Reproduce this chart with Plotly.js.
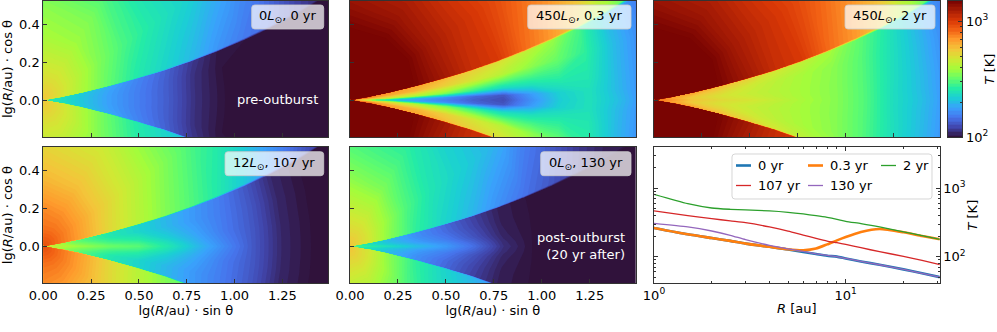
<!DOCTYPE html>
<html>
<head>
<meta charset="utf-8">
<script src="https://cdn.plot.ly/plotly-3.0.1.min.js"></script>
<style>html,body{margin:0;padding:0;background:#fff}</style>
</head>
<body>
<div id="plot" style="width:997px;height:332px"></div>
<script>
// radial nodes lg(R/au), and the disk surface angle above the midplane at each node
const lgRNodes = [0.005, 0.1, 0.2, 0.35, 0.5, 0.65, 0.8, 0.95, 1.1, 1.25, 1.4, 1.7];
const surfaceDeg = [9.5, 10.2, 11, 12.2, 13.2, 14, 15, 16, 17, 18, 19, 21];
// angle columns: first six are fractions of the surface angle, last three are degrees
const surfaceFractions = [0, 0.12, 0.3, 0.65, 0.985, 1.015];
const openDeg = [35, 60, 90];

// temperature in K, one row per radial node, one column per angle
const tempPre = [
    [263,263,263,263,270,540,550,560,560],
    [235,235,236,238,245,480,490,495,500],
    [208,208,208,210,215,400,425,445,450],
    [175,175,175,178,185,315,345,375,385],
    [152,152,152,154,158,257,295,340,355],
    [133,133,133,134,137,225,260,290,310],
    [111,111,111,112,116,197,235,250,270],
    [100,100,100,100,102,168,215,230,240],
    [100,100,100,100,100,150,190,200,210],
    [100,100,100,100,100,138,165,178,185],
    [100,100,100,100,100,120,145,160,170],
    [100,100,100,100,100,100,115,130,135],
];
const tempBurstEarly = [
    [263,400,600,800,900,1500,1500,1500,1500],
    [235,330,540,720,800,1500,1500,1500,1500],
    [208,280,480,640,700,1500,1500,1500,1500],
    [175,190,400,600,650,1450,1500,1500,1500],
    [152,165,340,530,600,1250,1240,1280,1320],
    [133,140,270,470,530,1080,1100,1150,1200],
    [124,130,230,420,490,1000,1000,1020,1050],
    [165,175,240,360,430,800,890,930,950],
    [215,220,255,320,370,680,780,850,880],
    [240,240,250,270,290,550,700,770,800],
    [200,195,195,200,200,390,600,700,730],
    [130,130,130,130,130,225,450,550,600],
];
const tempBurstLate = [
    [817,817,800,800,850,1500,1500,1500,1500],
    [690,680,650,650,700,1500,1500,1500,1500],
    [560,550,540,590,680,1500,1500,1500,1500],
    [505,490,480,520,600,1450,1500,1500,1500],
    [475,455,440,460,530,1250,1240,1280,1320],
    [430,415,410,420,470,1080,1100,1150,1200],
    [385,380,380,385,430,1000,1000,1020,1050],
    [350,350,350,355,385,800,890,930,950],
    [300,300,300,305,320,680,780,850,880],
    [235,235,238,245,260,550,700,770,800],
    [200,198,198,200,205,390,600,700,730],
    [130,130,130,130,130,225,450,550,600],
];
const tempFading = [
    [466,466,466,470,490,900,900,900,900],
    [410,405,395,380,370,770,780,780,780],
    [370,360,340,310,300,660,680,700,720],
    [325,310,285,255,250,510,550,580,600],
    [307,290,260,225,225,420,460,500,530],
    [253,240,215,195,195,350,390,440,470],
    [199,190,180,170,172,300,335,375,410],
    [160,155,150,150,152,255,290,330,360],
    [130,130,130,130,130,210,260,295,320],
    [108,108,108,108,108,165,225,270,300],
    [100,100,100,100,100,135,190,240,270],
    [100,100,100,100,100,100,140,190,220],
];
const tempPost = [
    [307,307,300,290,285,540,550,560,560],
    [272,262,250,240,235,470,480,490,495],
    [240,228,212,200,198,360,390,425,435],
    [200,190,175,165,163,270,300,340,360],
    [172,165,152,142,140,225,250,290,310],
    [142,137,128,122,120,195,225,255,275],
    [112,110,107,105,105,165,205,225,245],
    [100,100,100,100,100,145,185,205,215],
    [100,100,100,100,100,130,155,172,185],
    [100,100,100,100,100,115,135,150,160],
    [100,100,100,100,100,105,120,135,145],
    [100,100,100,100,100,100,105,118,125],
];

// midplane profiles
const radiusAu = [1, 1.5, 2, 2.5, 3, 4, 5, 6, 7, 8, 9, 10, 12, 15, 20, 25, 31];
const midplane0yr = [263,212,187,170,155,139,127,117,109,103,100,94,85,76,65,57,50];
const midplane03yr = [263,212,187,170,155,139,128,124,131,151,173,194,230,254,227,200,179];
const midplane2yr = [817,596,515,493,482,466,445,421,398,376,352,329,304,272,230,203,179];
const midplane107yr = [466,398,360,333,314,272,237,207,185,169,160,151,135,118,101,88,76];
const midplane130yr = [307,272,237,205,177,146,130,119,110,104,100,94,85,76,65,57,50];

const seriesNames = ['0 yr', '0.3 yr', '2 yr', '107 yr', '130 yr'];
const seriesColours = ['#1f77b4', '#ff7f0e', '#2ca02c', '#d62728', '#9467bd'];
const seriesWidths = [2.6, 2.6, 1.3, 1.3, 1.3];

const colourBarLevels = [100,107,115,123,132,141,151,162,174,186,200,214,229,245,263,282,302,324,347,372,398,427,457,490,525,562,603,646,692,741,794,851,912,977,1047,1122,1202,1288,1380,1479,1500];
const turboColours = ['#30123b','#4145ab','#4675ed','#39a2fc','#1bcfd4','#24eca6','#61fc6c','#a4fc3b','#d1e834','#f3c63a','#fe9b2d','#f36315','#d93806','#a91d05','#7a0402'];
const turbo = turboColours.map((c, i) => [i / (turboColours.length - 1), c]);
const zMin = 2;
const zMax = Math.log10(1500);

const W = 997;
const H = 332;
const FONT = '"DejaVu Sans", sans-serif';
const FRAME = '#333';
const px = (x) => x / W;
const py = (y) => 1 - y / H;

const panels = [
    {temp: tempPre, box: [43.3, 328.3, 1, 137], label: '0<i>L</i><sub>⊙</sub>, 0 yr', tag: [251.7, 323.7, 5, 29]},
    {temp: tempBurstEarly, box: [350, 635.7, 1, 137], label: '450<i>L</i><sub>⊙</sub>, 0.3 yr', tag: [527.7, 631, 5, 29]},
    {temp: tempBurstLate, box: [654, 939.7, 1, 137], label: '450<i>L</i><sub>⊙</sub>, 2 yr', tag: [845, 935, 5, 29]},
    {temp: tempFading, box: [43.3, 328.3, 147, 283.3], label: '12<i>L</i><sub>⊙</sub>, 107 yr', tag: [225, 323.7, 151.7, 175.7]},
    {temp: tempPost, box: [350, 635.7, 147, 283.3], label: '0<i>L</i><sub>⊙</sub>, 130 yr', tag: [540.7, 631, 151.7, 175.7]},
];

function nodeAngle(col, i) {
    if (col < surfaceFractions.length) return surfaceFractions[col] * surfaceDeg[i];
    return openDeg[col - surfaceFractions.length];
}

// polar nodes, north and south, mirrored about the midplane
const nCols = surfaceFractions.length + openDeg.length;
const bIndex = [];
for (let j = -(nCols - 1); j < nCols; j++) bIndex.push(j);

const gridX = bIndex.map((j) => lgRNodes.map((r, i) => r * Math.cos(nodeAngle(Math.abs(j), i) * Math.PI / 180)));
const gridY = bIndex.map((j) => lgRNodes.map((r, i) => Math.sign(j) * r * Math.sin(nodeAngle(Math.abs(j), i) * Math.PI / 180)));

function roundedBox(x0, x1, y0, y1, r) {
    const X = (v) => px(v).toFixed(5);
    const Y = (v) => py(v).toFixed(5);
    return 'M' + X(x0 + r) + ',' + Y(y0) + ' L' + X(x1 - r) + ',' + Y(y0)
        + ' Q' + X(x1) + ',' + Y(y0) + ' ' + X(x1) + ',' + Y(y0 + r)
        + ' L' + X(x1) + ',' + Y(y1 - r)
        + ' Q' + X(x1) + ',' + Y(y1) + ' ' + X(x1 - r) + ',' + Y(y1)
        + ' L' + X(x0 + r) + ',' + Y(y1)
        + ' Q' + X(x0) + ',' + Y(y1) + ' ' + X(x0) + ',' + Y(y1 - r)
        + ' L' + X(x0) + ',' + Y(y0 + r)
        + ' Q' + X(x0) + ',' + Y(y0) + ' ' + X(x0 + r) + ',' + Y(y0) + ' Z';
}

const data = [];
const layout = {
    width: W,
    height: H,
    margin: {l: 0, r: 0, t: 0, b: 0},
    paper_bgcolor: '#fff',
    plot_bgcolor: '#fff',
    font: {family: FONT, size: 13, color: '#000'},
    showlegend: false,
    shapes: [],
    annotations: [],
};

const frameAxis = {
    showgrid: false,
    zeroline: false,
    showline: true,
    linecolor: FRAME,
    linewidth: 1,
    mirror: true,
    ticks: 'inside',
    ticklen: 4,
    tickwidth: 1,
    tickcolor: FRAME,
    tickfont: {size: 13},
};

panels.forEach((p, k) => {
    const n = k + 1;
    const xName = 'x' + n;
    const yName = 'y' + n;
    const bottomRow = k >= 3;
    const leftCol = k === 0 || k === 3;

    data.push({
        type: 'carpet',
        carpet: 'c' + n,
        a: lgRNodes,
        b: bIndex,
        x: gridX,
        y: gridY,
        xaxis: xName,
        yaxis: yName,
        aaxis: {smoothing: 0, showgrid: false, showline: false, startline: false, endline: false, showticklabels: 'none', minorgridcount: 0, tickmode: 'array', tickvals: []},
        baxis: {smoothing: 0, showgrid: false, showline: false, startline: false, endline: false, showticklabels: 'none', minorgridcount: 0, tickmode: 'array', tickvals: []},
        showlegend: false,
    });
    data.push({
        type: 'contourcarpet',
        carpet: 'c' + n,
        a: lgRNodes,
        b: bIndex,
        z: bIndex.map((j) => p.temp.map((row) => Math.log10(row[Math.abs(j)]))),
        xaxis: xName,
        yaxis: yName,
        autocontour: false,
        contours: {coloring: 'fill', showlines: false, start: zMin, end: 3.17, size: 0.012},
        line: {width: 0, smoothing: 0},
        colorscale: turbo,
        zauto: false,
        zmin: zMin,
        zmax: zMax,
        showscale: false,
        showlegend: false,
    });

    layout['xaxis' + n] = Object.assign({}, frameAxis, {
        domain: [px(p.box[0]), px(p.box[1])],
        anchor: yName,
        range: [0, 1.49],
        tick0: 0,
        dtick: 0.25,
        tickformat: '.2f',
        showticklabels: bottomRow,
        title: bottomRow ? {text: 'lg(<i>R</i>/au) · sin θ', standoff: 1, font: {size: 13}} : undefined,
    });
    layout['yaxis' + n] = Object.assign({}, frameAxis, {
        domain: [py(p.box[3]), py(p.box[2])],
        anchor: xName,
        range: [-0.195, 0.522],
        tick0: 0,
        dtick: 0.2,
        tickformat: '.1f',
        showticklabels: leftCol,
        title: leftCol ? {text: 'lg(<i>R</i>/au) · cos θ', standoff: 6, font: {size: 13}} : undefined,
    });

    layout.shapes.push({
        type: 'path',
        xref: 'paper',
        yref: 'paper',
        path: roundedBox(p.tag[0], p.tag[1], p.tag[2], p.tag[3], 3),
        fillcolor: 'rgba(255,255,255,0.72)',
        line: {color: 'rgba(204,204,204,0.8)', width: 1},
        layer: 'above',
    });
    layout.annotations.push({
        xref: 'paper',
        yref: 'paper',
        x: px((p.tag[0] + p.tag[1]) / 2),
        y: py((p.tag[2] + p.tag[3]) / 2),
        xanchor: 'center',
        yanchor: 'middle',
        showarrow: false,
        text: p.label,
        font: {size: 13, color: '#000'},
    });
});

layout.annotations.push({
    xref: 'paper', yref: 'paper', x: px(320), y: py(100), xanchor: 'right', yanchor: 'middle',
    showarrow: false, text: 'pre-outburst', font: {size: 13, color: '#fff'},
});
layout.annotations.push({
    xref: 'paper', yref: 'paper', x: px(626.5), y: py(246), xanchor: 'right', yanchor: 'middle', align: 'right',
    showarrow: false, text: 'post-outburst<br>(20 yr after)', font: {size: 13, color: '#fff'},
});

// midplane temperature panel
[midplane0yr, midplane03yr, midplane2yr, midplane107yr, midplane130yr].forEach((vals, i) => {
    data.push({
        type: 'scatter',
        mode: 'lines',
        name: seriesNames[i],
        x: radiusAu,
        y: vals,
        xaxis: 'x6',
        yaxis: 'y6',
        line: {color: seriesColours[i], width: seriesWidths[i], shape: 'spline', smoothing: 0.6},
    });
});

layout.xaxis6 = Object.assign({}, frameAxis, {
    domain: [px(654), px(939.7)],
    anchor: 'y6',
    type: 'log',
    range: [0, 1.49],
    mirror: 'ticks',
    tickmode: 'array',
    tickvals: [1, 10],
    ticktext: ['10<sup>0</sup>', '10<sup>1</sup>'],
    minor: {ticks: 'inside', ticklen: 2, tickwidth: 1, tickcolor: FRAME, tickmode: 'array', tickvals: [2,3,4,5,6,7,8,9,20,30]},
    title: {text: '<i>R</i> [au]', standoff: 1, font: {size: 13}},
});
layout.yaxis6 = Object.assign({}, frameAxis, {
    domain: [py(283.3), py(147)],
    anchor: 'x6',
    type: 'log',
    side: 'right',
    range: [1.609, 3.605],
    mirror: 'ticks',
    tickmode: 'array',
    tickvals: [100, 1000],
    ticktext: ['10<sup>2</sup>', '10<sup>3</sup>'],
    minor: {ticks: 'inside', ticklen: 2, tickwidth: 1, tickcolor: FRAME, tickmode: 'array', tickvals: [50,60,70,80,90,200,300,400,500,600,700,800,900,2000,3000,4000]},
    title: {text: '<i>T</i> [K]', standoff: 3, font: {size: 13}},
});

// legend box drawn by hand so the two rows sit like the reference
layout.shapes.push({
    type: 'path',
    xref: 'paper',
    yref: 'paper',
    path: roundedBox(732, 932, 154, 199, 3),
    fillcolor: 'rgba(255,255,255,0.8)',
    line: {color: 'rgba(204,204,204,0.8)', width: 1},
    layer: 'above',
});
const legendSlots = [[736, 165.5], [808, 165.5], [881, 165.5], [736, 185.5], [808, 185.5]];
legendSlots.forEach((slot, i) => {
    layout.shapes.push({
        type: 'line',
        xref: 'paper',
        yref: 'paper',
        x0: px(slot[0]),
        x1: px(slot[0] + 15),
        y0: py(slot[1]),
        y1: py(slot[1]),
        line: {color: seriesColours[i], width: seriesWidths[i]},
        layer: 'above',
    });
    layout.annotations.push({
        xref: 'paper',
        yref: 'paper',
        x: px(slot[0] + 19.5),
        y: py(slot[1]),
        xanchor: 'left',
        yanchor: 'middle',
        showarrow: false,
        text: seriesNames[i],
        font: {size: 13, color: '#000'},
    });
});

// colour bar as its own small axes
data.push({
    type: 'heatmap',
    x: [0],
    y: colourBarLevels,
    z: colourBarLevels.map((t) => [Math.log10(t)]),
    xaxis: 'x7',
    yaxis: 'y7',
    colorscale: turbo,
    zmin: zMin,
    zmax: zMax,
    showscale: false,
    showlegend: false,
});
layout.xaxis7 = {
    domain: [px(947.7), px(962.3)],
    anchor: 'y7',
    range: [-0.5, 0.5],
    showticklabels: false,
    ticks: '',
    showgrid: false,
    zeroline: false,
    showline: true,
    linecolor: FRAME,
    linewidth: 1,
    mirror: true,
};
layout.yaxis7 = Object.assign({}, frameAxis, {
    domain: [py(137), py(1)],
    anchor: 'x7',
    type: 'log',
    side: 'right',
    range: [2, zMax],
    ticks: 'inside',
    tickmode: 'array',
    tickvals: [100, 1000],
    ticktext: ['10<sup>2</sup>', '10<sup>3</sup>'],
    minor: {ticks: 'inside', ticklen: 2, tickwidth: 1, tickcolor: FRAME, tickmode: 'array', tickvals: [200,300,400,500,600,700,800,900]},
    title: {text: '<i>T</i> [K]', standoff: 3, font: {size: 13}},
});

Plotly.newPlot('plot', data, layout, {displayModeBar: false, staticPlot: true});
</script>
</body>
</html>
